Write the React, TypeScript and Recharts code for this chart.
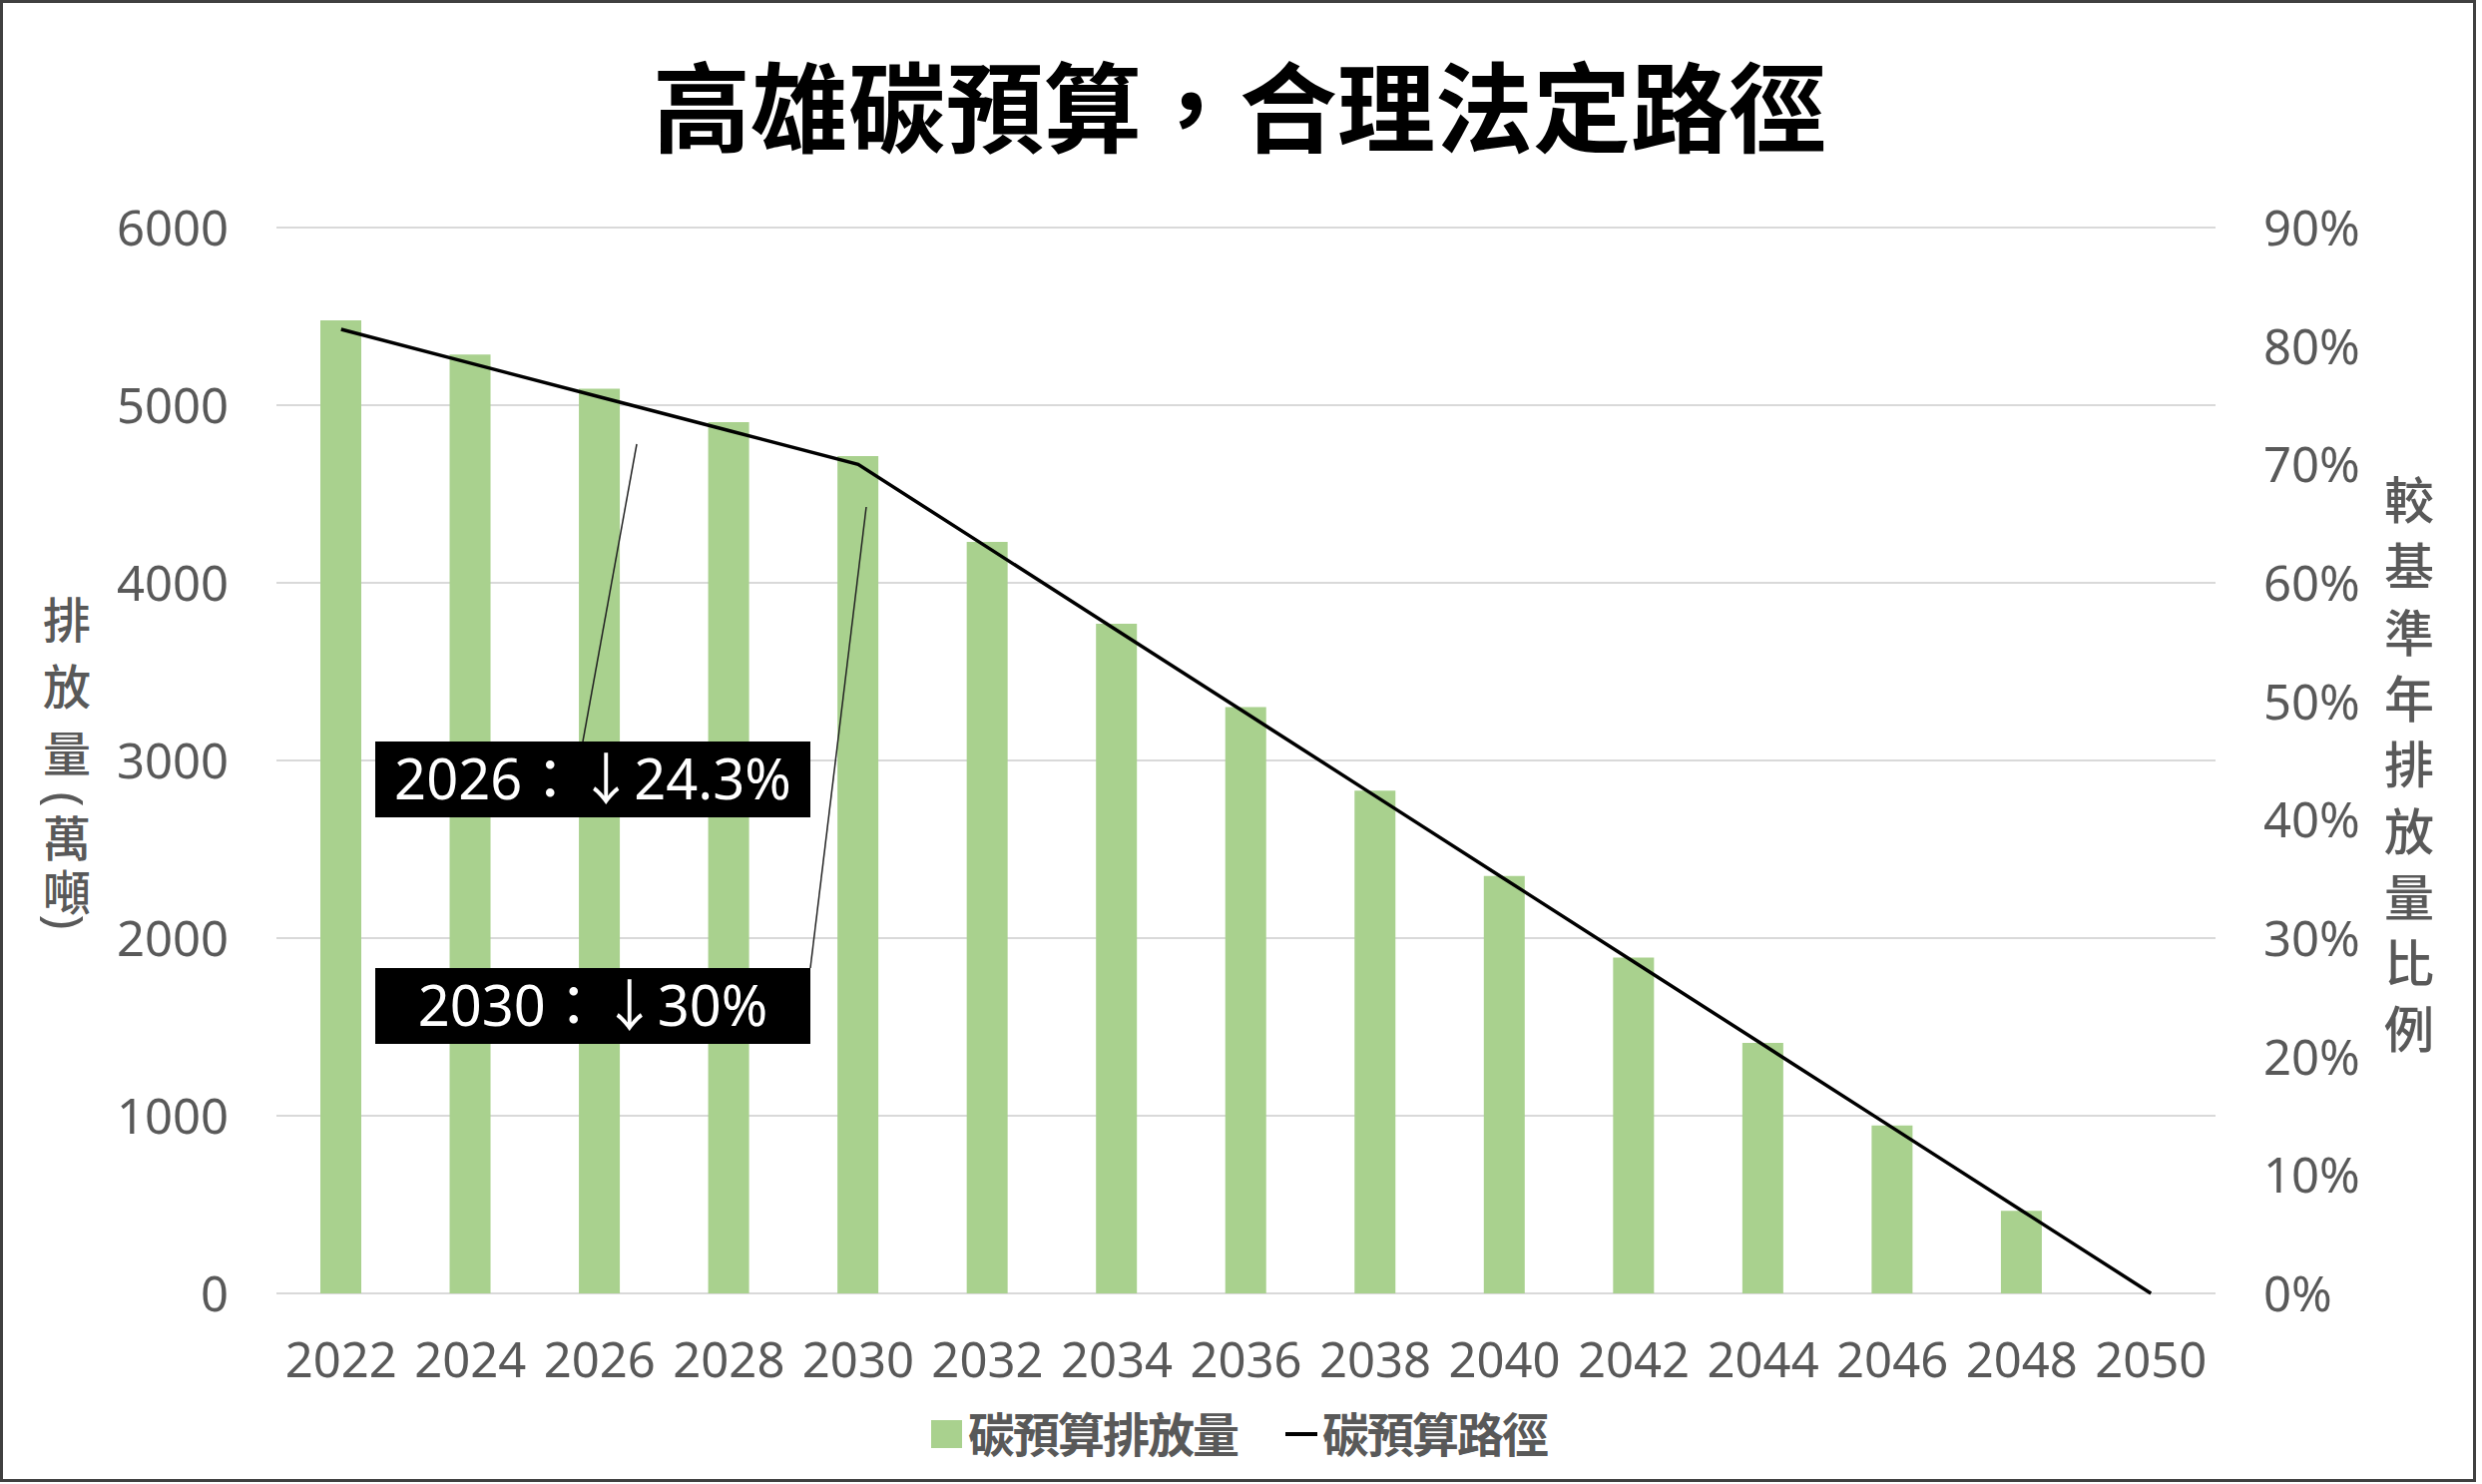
import React from 'react';
import { Bar, CartesianGrid, ComposedChart, Line, XAxis, YAxis } from 'recharts';

// chart values
const years = ['2022', '2024', '2026', '2028', '2030', '2032', '2034', '2036', '2038', '2040', '2042', '2044', '2046', '2048', '2050'];
const budgetEmissions = [5478, 5285, 5092, 4904, 4713, 4230, 3770, 3300, 2830, 2350, 1890, 1410, 945, 465, null];
const budgetPath = [81.4, 78.55, 75.7, 72.85, 70, 63, 56, 49, 42, 35, 28, 21, 14, 7, 0];
const leftTicks = [0, 1000, 2000, 3000, 4000, 5000, 6000];
const rightTicks = [0, 10, 20, 30, 40, 50, 60, 70, 80, 90];

const title = '高雄碳預算，合理法定路徑';
const barName = '碳預算排放量';
const lineName = '碳預算路徑';
const leftAxisTitle = ['排', '放', '量', '(', '萬', '噸', ')'];
const rightAxisTitle = ['較', '基', '準', '年', '排', '放', '量', '比', '例'];
const notes = ['2026：↓24.3%', '2030：↓30%'];

const data = years.map((year, i) => ({ year, emissions: budgetEmissions[i], path: budgetPath[i] }));

const W = 2487;
const H = 1487;
const GRAY = '#595959';
const GREEN = '#A9D18E';
const NUM_FONT = "'Noto Sans', 'Noto Sans CJK TC', sans-serif";
const CJK_FONT = "'Noto Sans CJK TC', 'Noto Sans', sans-serif";

const LeftTick = (props: any) => (
	<text x={229} y={props.y + 18} textAnchor='end' fontSize={49} fill={GRAY} fontFamily={NUM_FONT}>
		{props.payload.value}
	</text>
);

const RightTick = (props: any) => (
	<text x={2268} y={props.y + 18} textAnchor='start' fontSize={49} fill={GRAY} fontFamily={NUM_FONT}>
		{`${props.payload.value}%`}
	</text>
);

const YearTick = (props: any) => (
	<text x={props.x} y={1380} textAnchor='middle' fontSize={49} fill={GRAY} fontFamily={NUM_FONT}>
		{props.payload.value}
	</text>
);

// left title: parens are turned on their side and take less room
const leftTitleY = [618, 685, 752, 801, 837, 891, 924];

const Overlay = () => (
	<svg width={W} height={H} style={{ position: 'absolute', left: 0, top: 0, pointerEvents: 'none' }}>
		<rect x={1.5} y={1.5} width={2478} height={1482} fill='none' stroke='#404040' strokeWidth={3} />
		<text x={1242} y={145} textAnchor='middle' fontSize={98} fontWeight='bold' fill='#000' fontFamily={CJK_FONT}>
			{title}
		</text>

		{leftAxisTitle.map((c, i) =>
			c === '(' || c === ')' ? (
				<text
					key={i}
					x={67}
					y={leftTitleY[i]}
					textAnchor='middle'
					dominantBaseline='central'
					fontSize={50}
					fill={GRAY}
					fontFamily={NUM_FONT}
					transform={`rotate(90 67 ${leftTitleY[i]})`}
				>
					{c}
				</text>
			) : (
				<text key={i} x={67} y={leftTitleY[i]} textAnchor='middle' dominantBaseline='central' fontSize={48} fontWeight={500} fill={GRAY} fontFamily={CJK_FONT}>
					{c}
				</text>
			)
		)}
		{rightAxisTitle.map((c, i) => (
			<text key={i} x={2414} y={498 + i * 66.3} textAnchor='middle' dominantBaseline='central' fontSize={50} fontWeight={500} fill={GRAY} fontFamily={CJK_FONT}>
				{c}
			</text>
		))}

		{/* annotations */}
		<line x1={584} y1={743} x2={638} y2={445} stroke='#222' strokeWidth={1.5} />
		<line x1={812} y1={970} x2={868} y2={508} stroke='#222' strokeWidth={1.5} />
		<rect x={376} y={743} width={436} height={76} fill='#000' />
		<rect x={376} y={970} width={436} height={76} fill='#000' />
		<text x={594} y={801} textAnchor='middle' fontSize={56} fill='#fff' fontFamily={NUM_FONT}>
			{notes[0]}
		</text>
		<text x={594} y={1028} textAnchor='middle' fontSize={56} fill='#fff' fontFamily={NUM_FONT}>
			{notes[1]}
		</text>

		{/* legend */}
		<rect x={933} y={1423} width={31} height={28} fill={GREEN} />
		<text x={970} y={1455} fontSize={47} letterSpacing={-2} fontWeight='bold' fill={GRAY} fontFamily={CJK_FONT}>
			{barName}
		</text>
		<line x1={1288} y1={1437} x2={1320} y2={1437} stroke='#000' strokeWidth={4} />
		<text x={1325} y={1455} fontSize={47} letterSpacing={-2} fontWeight='bold' fill={GRAY} fontFamily={CJK_FONT}>
			{lineName}
		</text>
	</svg>
);

export default function App() {
	return (
		<div style={{ position: 'absolute', left: 0, top: 0, width: W, height: H, background: '#fff' }}>
			<ComposedChart width={W} height={H} data={data} margin={{ top: 228, right: 0, bottom: 91, left: 0 }}>
				<CartesianGrid yAxisId='left' vertical={false} stroke='#D9D9D9' strokeWidth={2} />
				<XAxis dataKey='year' height={100} axisLine={false} tickLine={false} interval={0} tick={<YearTick />} />
				<YAxis
					yAxisId='left'
					width={277}
					domain={[0, 6000]}
					ticks={leftTicks}
					axisLine={false}
					tickLine={false}
					tick={<LeftTick />}
				/>
				<YAxis
					yAxisId='right'
					orientation='right'
					width={267}
					domain={[0, 90]}
					ticks={rightTicks}
					axisLine={false}
					tickLine={false}
					tick={<RightTick />}
				/>
				<Bar yAxisId='left' dataKey='emissions' name={barName} fill={GREEN} barSize={41} isAnimationActive={false} />
				<Line
					yAxisId='right'
					type='linear'
					dataKey='path'
					name={lineName}
					stroke='#000'
					strokeWidth={3.5}
					dot={false}
					activeDot={false}
					isAnimationActive={false}
				/>
			</ComposedChart>
			<Overlay />
		</div>
	);
}
